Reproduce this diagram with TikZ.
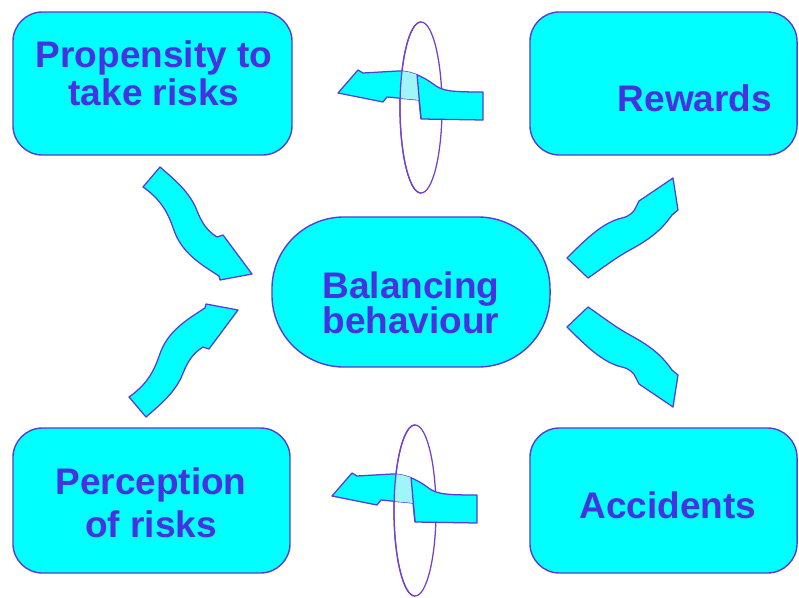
\documentclass[tikz,border=0pt]{standalone}
\usepackage{fontspec}
\setmainfont{Liberation Sans}

\definecolor{boxfill}{RGB}{0,255,255}
\definecolor{boxline}{RGB}{90,60,210}
\definecolor{boxtext}{RGB}{70,50,225}
\definecolor{ringline}{RGB}{115,65,205}
\definecolor{paleflow}{RGB}{160,245,250}

\tikzset{
  riskbox/.style={draw=boxline, line width=1pt, fill=boxfill, rounded corners=21pt, inner sep=0pt},
  risktext/.style={text=boxtext, font=\fontsize{26.3}{#1}\selectfont\bfseries, align=center, inner sep=0pt, anchor=north},
  risktext/.default=27pt,
  flow/.style={draw=boxline, line width=0.9pt, fill=boxfill, line join=round},
  ring/.style={draw=ringline, line width=0.9pt}
}

\begin{document}
\begin{tikzpicture}[x=0.025cm, y=-0.025cm]
	\useasboundingbox (0,0) rectangle (799,597);

	% outlines of the wavy block arrows
	\def\ularrow{(160,167) .. controls (175,180) and (187,190) .. (195,206) .. controls (200,218) and (204,229) .. (217,237) -- (223,235) -- (252,274) -- (220,280) -- (219,276) .. controls (200,264) and (183,253) .. (175,233) .. controls (170,220) and (166,203) .. (143,187) -- cycle}
	\def\urarrow{(567,258) .. controls (585,240) and (603,222) .. (622,218) .. controls (630,216) and (634,212) .. (636,207) -- (639,201) -- (673,178) -- (678,210) -- (672,215) .. controls (660,232) and (648,240) .. (630,250) .. controls (615,258) and (600,270) .. (588,278) -- cycle}
	\def\midarrow{(483,92) -- (483,120) -- (421,119) -- (419,100) -- (387,97) -- (383,102) -- (338,93) -- (358,70) -- (363,73) -- (398,71) .. controls (415,71) and (428,80) .. (436,86) .. controls (444,91) and (452,92) .. (483,92) -- cycle}

	% the five boxes
	\node[riskbox, minimum width=6.975cm, minimum height=3.575cm] (prop) at (152.5,83.5) {};
	\node[riskbox, minimum width=6.675cm, minimum height=3.575cm] (reward) at (663.5,83.5) {};
	\node[riskbox, minimum width=6.925cm, minimum height=3.625cm] (percep) at (151.5,500.5) {};
	\node[riskbox, minimum width=6.675cm, minimum height=3.625cm] (accid) at (663.5,500.5) {};
	\node[riskbox, rounded corners=1.8cm, minimum width=6.95cm, minimum height=3.75cm] (balance) at (411,292) {};

	\node[risktext] (prop-t) at (154,40) {Propensity to\\take risks};
	\node[risktext] (reward-t) at (695,84) {Rewards};
	\node[risktext=25pt] (balance-t) at (411,271) {Balancing\\behaviour};
	\node[risktext=31pt] (percep-t) at (151,467) {Perception\\of risks};
	\node[risktext] (accid-t) at (668,491) {Accidents};

	% arrows to and from the balance, lower ones mirrored
	\draw[flow] \ularrow;
	\begin{scope}[shift={(-14,584)}, yscale=-1]
		\draw[flow] \ularrow;
	\end{scope}
	\draw[flow] \urarrow;
	\begin{scope}[shift={(0,585)}, yscale=-1]
		\draw[flow] \urarrow;
	\end{scope}

	% arrows threaded through the rings
	\foreach \dx/\dy in {0/0, -6/403}
	{
		\begin{scope}[shift={(\dx,\dy)}]
			\draw[ring] (421,107.5) ellipse [x radius=0.525cm, y radius=2.1375cm];
			\draw[flow] \midarrow;
			\begin{scope}
				\clip \midarrow;
				\clip (380,60) -- (415.6,60) -- (421.5,125) -- (380,125) -- cycle;
				\fill[paleflow] (421,107.5) ellipse [x radius=0.525cm, y radius=2.1375cm];
			\end{scope}
			\draw[boxline, line width=0.9pt] (417,74) -- (421,119);
			\draw[ring] (421,22) arc [start angle=90, end angle=270, x radius=0.525cm, y radius=2.1375cm];
		\end{scope}
	}
\end{tikzpicture}
\end{document}
